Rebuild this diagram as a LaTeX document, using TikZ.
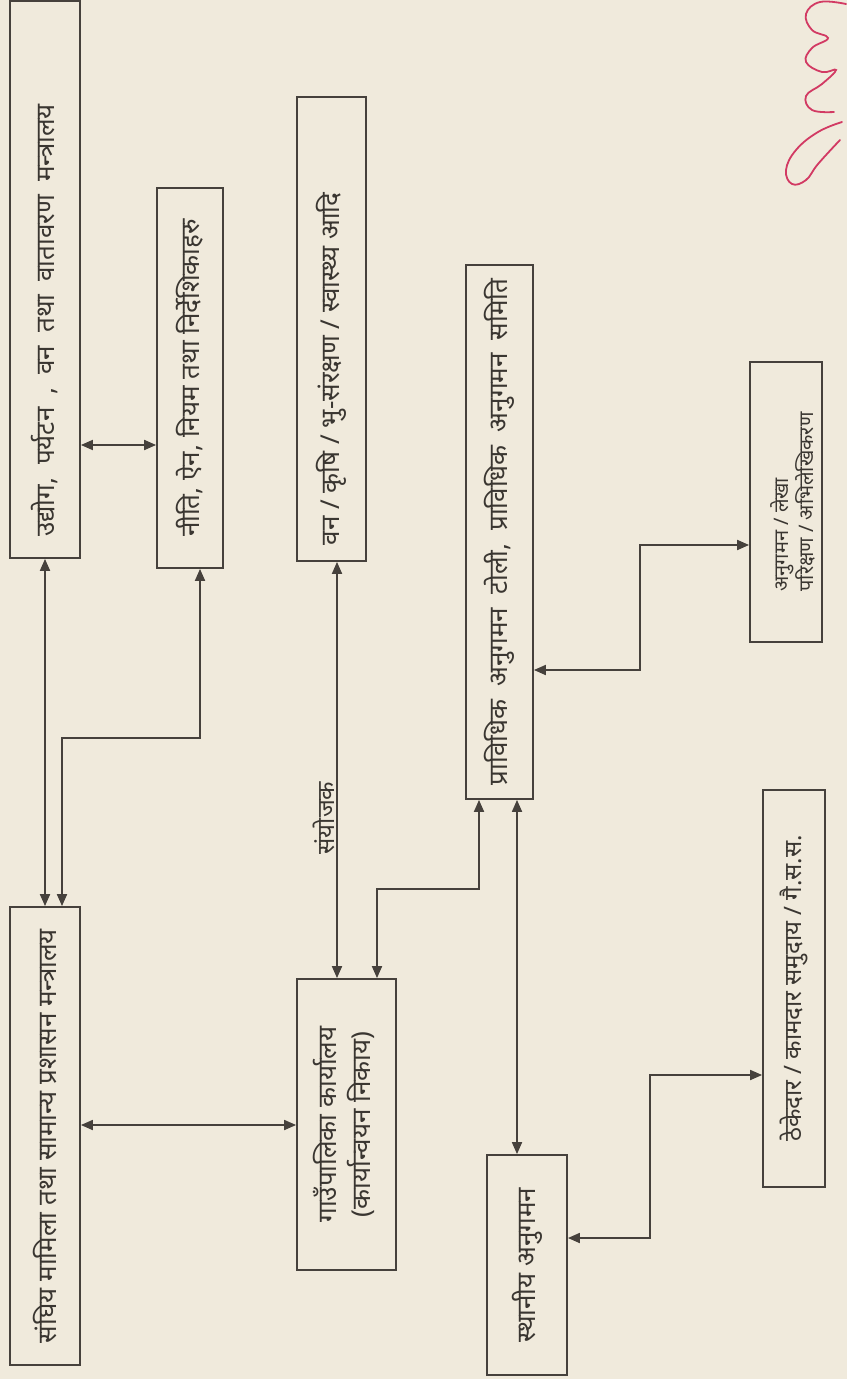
\documentclass[tikz,border=0pt]{standalone}
\usepackage{fontspec}
\usepackage{graphicx}
\newfontfamily\deva[Script=Devanagari]{Noto Sans}
\newcommand\mywidesp{\spaceskip=6.5pt\relax}
\usetikzlibrary{arrows.meta}
\definecolor{paper}{HTML}{F0EADC}
\definecolor{ink}{HTML}{46413C}
\definecolor{txt}{HTML}{3A3631}
\definecolor{sig}{HTML}{D23A63}
\begin{document}
\begin{tikzpicture}[x=0.5pt,y=-0.5pt,
  box/.style={draw=ink, line width=0.9pt, inner sep=0pt, text=txt,
    font=\deva\fontsize{13}{17}\selectfont},
  widebox/.style={box, font=\deva\fontsize{13}{17}\selectfont\mywidesp},
  smallbox/.style={box, font=\deva\fontsize{10}{12.5}\selectfont},
  lbl/.style={inner sep=1pt, text=txt, font=\deva\fontsize{12}{14}\selectfont},
  link/.style={draw=ink, line width=0.9pt,
    {Triangle[length=6pt,width=5pt]}-{Triangle[length=6pt,width=5pt]}}]
\fill[paper] (0,0) rectangle (847,1379);
\useasboundingbox (0,0) rectangle (847,1379);

% boxes
\node[widebox, minimum width=35pt, minimum height=278.5pt] (b1) at (45,279.5)
  {\rotatebox{90}{उद्योग, पर्यटन , वन तथा वातावरण मन्त्रालय\hspace{41pt}}};
\node[box, minimum width=33pt, minimum height=190pt] (b2) at (190,378)
  {\rotatebox{90}{नीति, ऐन, नियम तथा निर्देशिकाहरु}};
\node[box, minimum width=34.5pt, minimum height=232pt] (b3) at (331.5,329)
  {\rotatebox{90}{वन / कृषि / भु-संरक्षण / स्वास्थ्य आदि\hspace{40pt}}};
\node[widebox, minimum width=33.5pt, minimum height=267pt] (b4) at (499.5,532)
  {\rotatebox{90}{प्राविधिक अनुगमन टोली, प्राविधिक अनुगमन समिति}};
\node[smallbox, minimum width=36pt, minimum height=140pt] (b5) at (786,502)
  {\rotatebox{90}{\raisebox{0pt}[\dimexpr\height+10pt\relax][\depth]{\begin{tabular}{@{}l@{}}अनुगमन / लेखा\\परिक्षण / अभिलेखिकरण\end{tabular}}}};
\node[box, minimum width=35pt, minimum height=229pt] (b6) at (45,1136)
  {\rotatebox{90}{संघिय मामिला तथा सामान्य प्रशासन मन्त्रालय}};
\node[box, minimum width=49.5pt, minimum height=145.5pt] (b7) at (346.5,1124.5)
  {\rotatebox{90}{\begin{tabular}{@{}c@{}}गाउँपालिका कार्यालय\\(कार्यान्वयन निकाय)\end{tabular}}};
\node[box, minimum width=40pt, minimum height=110pt] (b8) at (527,1265)
  {\rotatebox{90}{स्थानीय अनुगमन}};
\node[box, font=\deva\fontsize{12}{14}\selectfont, minimum width=31pt, minimum height=198.5pt] (b9) at (794,988.5)
  {\rotatebox{90}{ठेकेदार / कामदार समुदाय / गै.स.स.}};

% connectors
\draw[link] (b1.east |- 0,445) -- (b2.west |- 0,445);
\draw[link] (b1.south) -- (b6.north);
\draw[link] (62,0 |- b6.north) |- (200,738) -- (200,0 |- b2.south);
\draw[link] (b6.east |- 0,1125) -- (b7.west |- 0,1125);
\draw[link] (337,0 |- b3.south) -- (337,0 |- b7.north);
\node[lbl] (conv) at (324,818) {\rotatebox{90}{संयोजक}};
\draw[link] (377,0 |- b7.north) |- (479,889) -- (479,0 |- b4.south);
\draw[link] (517,0 |- b4.south) -- (517,0 |- b8.north);
\draw[link] (b4.east |- 0,670) -| (640,545) -- (b5.west |- 0,545);
\draw[link] (b8.east |- 0,1238) -| (650,1075) -- (b9.west |- 0,1075);

% handwritten mark
\draw[sig, line width=0.9pt, line cap=round] plot[smooth, tension=0.7] coordinates
  {(846,4) (820,2) (806,14) (812,30) (828,38) (812,48) (806,62) (822,72) (836,70) (822,84) (806,96) (812,110) (834,112)};
\draw[sig, line width=0.9pt, line cap=round] plot[smooth, tension=0.7] coordinates
  {(842,122) (818,132) (796,150) (786,170) (792,184) (806,180) (818,164) (840,140)};
\end{tikzpicture}
\end{document}
